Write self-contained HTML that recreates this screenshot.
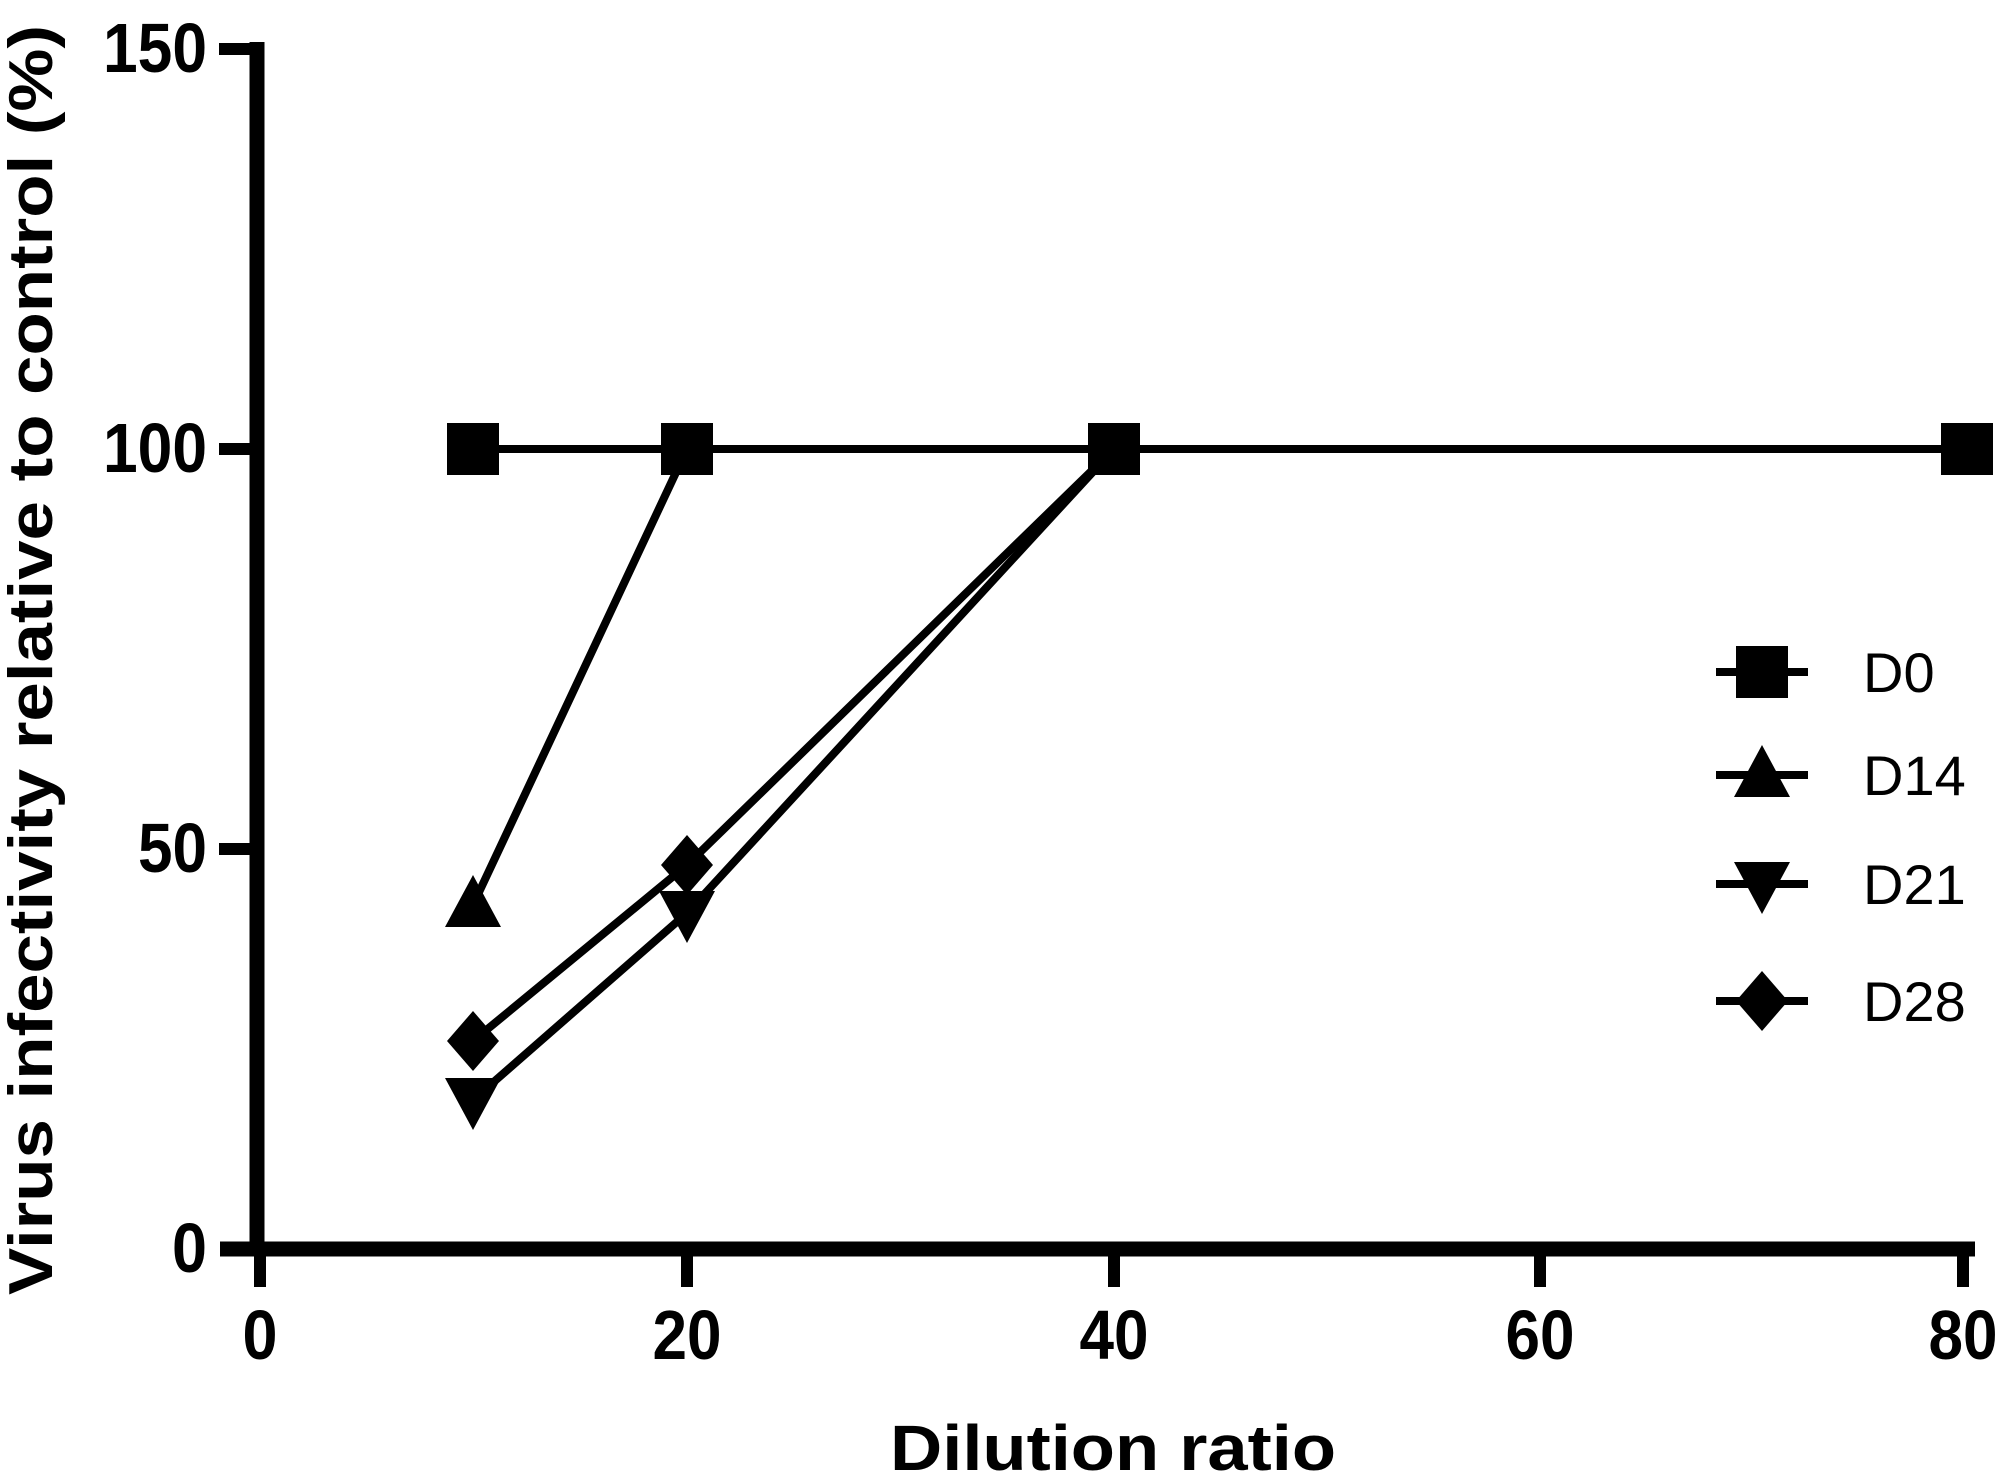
<!DOCTYPE html>
<html><head><style>body{margin:0;background:#fff}</style></head><body>
<svg width="2008" height="1477" xmlns="http://www.w3.org/2000/svg" font-family="Liberation Sans, Arial, sans-serif">
<defs>
<rect id="sq" x="-26" y="-26" width="52" height="52"/>
<polygon id="tu" points="0,-30 28,22 -28,22"/>
<polygon id="td" points="0,30 28,-22 -28,-22"/>
<polygon id="di" points="0,-30 26,0 0,30 -26,0"/>
</defs>
<g stroke="#000" fill="none">
<line x1="257" y1="42" x2="257" y2="1256" stroke-width="15"/>
<line x1="220" y1="1249" x2="1975" y2="1249" stroke-width="15"/>
<g stroke-width="12">
<line x1="219" y1="49" x2="257" y2="49"/>
<line x1="219" y1="449" x2="257" y2="449"/>
<line x1="219" y1="849" x2="257" y2="849"/>
<line x1="260" y1="1249" x2="260" y2="1287"/>
<line x1="687" y1="1249" x2="687" y2="1287"/>
<line x1="1114" y1="1249" x2="1114" y2="1287"/>
<line x1="1540" y1="1249" x2="1540" y2="1287"/>
<line x1="1963" y1="1249" x2="1963" y2="1287"/>
</g>
<g stroke-width="8">
<polyline points="473,449 687,449 1114,449 1967,449"/>
<polyline points="473,905 687,449 1114,449"/>
<polyline points="473,1100 687,913 1114,449"/>
<polyline points="473,1041 687,865 1114,449"/>
<line x1="1716" y1="672" x2="1808" y2="672"/>
<line x1="1716" y1="775" x2="1808" y2="775"/>
<line x1="1716" y1="884" x2="1808" y2="884"/>
<line x1="1716" y1="1001" x2="1808" y2="1001"/>
</g>
</g>
<g fill="#000">
<use href="#sq" x="473" y="449"/><use href="#sq" x="687" y="449"/><use href="#sq" x="1114" y="449"/><use href="#sq" x="1967" y="449"/>
<use href="#tu" x="473" y="905"/>
<use href="#td" x="473" y="1100"/><use href="#td" x="687" y="913"/>
<use href="#di" x="473" y="1041"/><use href="#di" x="687" y="865"/>
<use href="#sq" x="1762" y="672"/><use href="#tu" x="1762" y="775"/><use href="#td" x="1762" y="884"/><use href="#di" x="1762" y="1001"/>
</g>
<g font-weight="bold" font-size="70" text-anchor="end">
<text x="207" y="72" textLength="104" lengthAdjust="spacingAndGlyphs">150</text>
<text x="207" y="472" textLength="104" lengthAdjust="spacingAndGlyphs">100</text>
<text x="207" y="872" textLength="69" lengthAdjust="spacingAndGlyphs">50</text>
<text x="207" y="1272" textLength="35" lengthAdjust="spacingAndGlyphs">0</text>
</g>
<g font-weight="bold" font-size="70" text-anchor="middle">
<text x="260" y="1359" textLength="35" lengthAdjust="spacingAndGlyphs">0</text>
<text x="687" y="1359" textLength="69" lengthAdjust="spacingAndGlyphs">20</text>
<text x="1114" y="1359" textLength="69" lengthAdjust="spacingAndGlyphs">40</text>
<text x="1540" y="1359" textLength="69" lengthAdjust="spacingAndGlyphs">60</text>
<text x="1963" y="1359" textLength="69" lengthAdjust="spacingAndGlyphs">80</text>
<text x="1113" y="1470" font-size="64" textLength="446" lengthAdjust="spacingAndGlyphs">Dilution ratio</text>
<text transform="translate(52,660) rotate(-90)" font-size="62" textLength="1270" lengthAdjust="spacingAndGlyphs">Virus infectivity relative to control (%)</text>
</g>
<g font-size="56">
<text x="1863" y="692">D0</text>
<text x="1863" y="795">D14</text>
<text x="1863" y="904">D21</text>
<text x="1863" y="1021">D28</text>
</g>
</svg>
</body></html>
